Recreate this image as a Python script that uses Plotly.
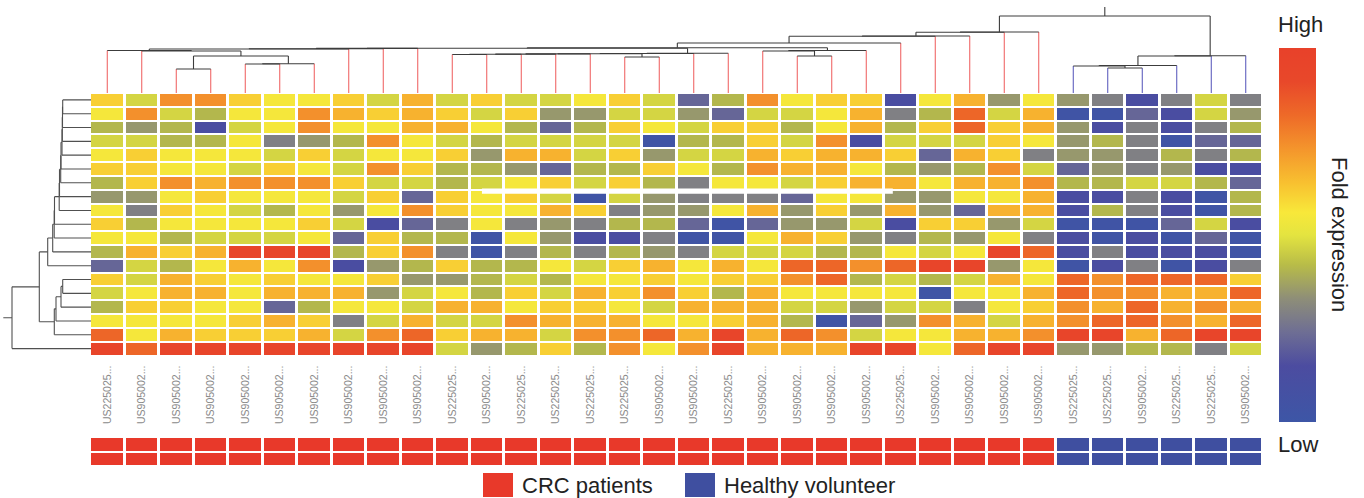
import plotly.graph_objects as go

W, H = 1364, 498

# ---------------- data ----------------
sample_labels = ["US225025...", "US905002...", "US905002...", "US905002...", "US905002...",
                 "US905002...", "US905002...", "US905002...", "US905002...", "US905002...",
                 "US225025...", "US905002...", "US225025...", "US225025...", "US225025...",
                 "US225025...", "US905002...", "US905002...", "US225025...", "US905002...",
                 "US905002...", "US905002...", "US905002...", "US225025...", "US905002...",
                 "US905002...", "US905002...", "US905002...", "US225025...", "US225025...",
                 "US905002...", "US225025...", "US225025...", "US905002..."]
sample_group = ["CRC patients"] * 28 + ["Healthy volunteer"] * 6

# relative fold expression (0 = low, 1 = high), one list per gene row
row01 = [.61,.47,.74,.74,.61,.55,.55,.61,.47,.67,.47,.61,.47,.47,.55,.61,.47,.22,.41,.74,.55,.61,.61,.13,.55,.67,.35,.55,.35,.29,.13,.29,.47,.29]
row02 = [.55,.74,.47,.41,.55,.55,.74,.67,.61,.67,.61,.47,.61,.35,.35,.47,.47,.35,.22,.47,.47,.55,.67,.29,.41,.83,.47,.67,.03,.03,.22,.13,.47,.35]
row03 = [.41,.35,.41,.13,.47,.55,.74,.55,.55,.67,.67,.55,.41,.22,.41,.61,.55,.47,.61,.61,.41,.55,.67,.41,.61,.83,.61,.67,.35,.13,.29,.13,.29,.41]
row04 = [.47,.47,.41,.41,.55,.29,.35,.41,.74,.55,.47,.41,.47,.47,.47,.47,.03,.41,.41,.61,.47,.74,.13,.47,.47,.47,.61,.55,.35,.41,.29,.03,.22,.22]
row05 = [.55,.61,.55,.55,.55,.47,.61,.47,.55,.55,.61,.35,.67,.67,.47,.61,.35,.47,.47,.67,.61,.67,.67,.61,.22,.67,.61,.29,.35,.35,.29,.41,.29,.41]
row06 = [.61,.61,.55,.55,.47,.61,.55,.47,.74,.61,.41,.41,.35,.22,.41,.41,.61,.55,.41,.74,.67,.67,.55,.41,.35,.41,.74,.47,.22,.35,.29,.35,.13,.13]
row07 = [.41,.61,.74,.67,.74,.74,.74,.61,.47,.47,.41,.47,.55,.61,.47,.61,.41,.29,.55,.55,.47,.61,.67,.67,.55,.67,.67,.74,.41,.41,.47,.47,.41,.22]
row08 = [.35,.35,.55,.61,.55,.55,.55,.47,.61,.22,.61,.55,.61,.47,.03,.47,.35,.29,.29,.29,.22,.55,.55,.35,.35,.55,.55,.67,.13,.13,.29,.13,.03,.41]
row09 = [.55,.29,.61,.55,.47,.41,.55,.35,.55,.74,.61,.55,.55,.67,.61,.29,.35,.35,.55,.67,.35,.61,.35,.67,.35,.22,.67,.67,.13,.41,.29,.13,.03,.41]
row10 = [.61,.41,.55,.55,.55,.55,.61,.47,.13,.22,.29,.55,.29,.35,.29,.41,.41,.22,.03,.22,.35,.35,.47,.13,.61,.61,.35,.47,.03,.03,.03,.22,.47,.13]
row11 = [.55,.55,.41,.47,.47,.47,.55,.22,.61,.41,.41,.03,.55,.35,.13,.13,.29,.03,.03,.55,.67,.61,.35,.29,.41,.35,.55,.29,.13,.03,.13,.03,.22,.03]
row12 = [.41,.67,.61,.67,.95,.95,.95,.41,.61,.74,.29,.03,.29,.41,.29,.41,.35,.29,.47,.47,.47,.41,.41,.55,.47,.55,.95,.83,.13,.29,.13,.13,.13,.03]
row13 = [.22,.47,.41,.55,.67,.55,.74,.13,.35,.41,.61,.41,.41,.55,.47,.61,.67,.55,.67,.55,.83,.83,.74,.83,.95,.95,.35,.55,.03,.13,.29,.03,.13,.29]
row14 = [.61,.47,.67,.61,.55,.61,.55,.55,.61,.35,.35,.41,.47,.41,.55,.55,.61,.55,.61,.61,.74,.83,.41,.47,.41,.47,.67,.55,.83,.74,.83,.83,.83,.61]
row15 = [.47,.55,.67,.67,.55,.67,.67,.67,.35,.47,.55,.41,.61,.47,.67,.61,.74,.61,.41,.67,.55,.55,.55,.55,.03,.55,.55,.67,.83,.74,.74,.67,.67,.83]
row16 = [.41,.61,.61,.55,.55,.22,.41,.55,.55,.47,.67,.67,.55,.61,.61,.55,.47,.67,.67,.67,.47,.47,.35,.47,.47,.29,.55,.61,.74,.67,.83,.67,.74,.67]
row17 = [.55,.55,.55,.55,.61,.67,.61,.29,.47,.67,.47,.47,.74,.67,.67,.67,.55,.55,.61,.67,.41,.03,.22,.35,.74,.67,.47,.67,.74,.83,.83,.74,.67,.83]
row18 = [.83,.55,.67,.61,.61,.61,.67,.47,.74,.83,.61,.67,.67,.47,.74,.74,.83,.67,.95,.67,.83,.74,.47,.55,.55,.67,.67,.74,.95,.95,.67,.83,.95,.95]
row19 = [.95,.83,.95,.95,.95,.95,.95,.95,.95,.95,.47,.35,.41,.61,.41,.74,.55,.74,.95,.67,.67,.67,.95,.95,.55,.83,.95,.95,.35,.35,.41,.41,.29,.47]
expression_rows = [row01, row02, row03, row04, row05, row06, row07, row08, row09, row10,
                   row11, row12, row13, row14, row15, row16, row17, row18, row19]

# sample (column) clustering: (node, child_a, child_b, merge distance)
sample_tree = [
    ("h1", 29, 30, 25.0), ("h2", 28, "h1", 27.0), ("h3", "h2", 31, 27.5),
    ("h4", "h3", 32, 37.0), ("H", "h4", 33, 37.3),
    ("b23", 2, 3, 24.0), ("b45", 4, 5, 29.0), ("b456", "b45", 6, 29.3),
    ("E", "b23", "b456", 37.0), ("F", 1, "E", 42.0), ("G", 0, "F", 42.5),
    ("S1", "G", 7, 44.0), ("S2", "S1", 8, 44.3), ("S", "S2", 9, 44.6),
    ("r1011", 10, 11, 38.5), ("r12", "r1011", 12, 38.7), ("r13", "r12", 13, 38.9),
    ("r14", "r13", 14, 39.1), ("r1516", 15, 16, 36.0), ("r16", "r14", "r1516", 39.3),
    ("r17", "r16", 17, 39.5), ("R", "r17", 18, 39.7), ("P", "S", "R", 44.8),
    ("q2021", 20, 21, 37.0), ("q19", 19, "q2021", 42.0), ("Q", "q19", 22, 42.5),
    ("N", "P", "Q", 45.2), ("M", "N", 23, 50.0), ("Ld", "M", 24, 56.7),
    ("Lb", "Ld", 25, 57.0), ("Lc", "Lb", 26, 60.7), ("L", "Lc", 27, 61.0),
    ("root", "L", "H", 77.0),
]
# gene (row) clustering
gene_tree = [
    ("a01", 0, 1, 28.3), ("a2", "a01", 2, 28.5), ("a3", "a2", 3, 28.7),
    ("a4", "a3", 4, 29.0), ("a5", "a4", 5, 30.0), ("a6", "a5", 6, 30.3),
    ("a7", "a6", 7, 31.5), ("a8", "a7", 8, 31.8), ("a9", "a8", 9, 36.5),
    ("a10", "a9", 10, 36.8), ("a11", "a10", 11, 38.3), ("U", "a11", 12, 43.3),
    ("c1314", 13, 14, 28.3), ("c15", "c1314", 15, 30.0), ("c16", "c15", 16, 35.0),
    ("Lo", "c16", 17, 36.7), ("UL", "U", "Lo", 51.7), ("root", "UL", 18, 79.0),
]

# ---------------- styling ----------------
FONT = "Liberation Sans, Arial, sans-serif"
fold_scale = [
    [0.00, "#3D56A6"], [0.15, "#4C4CA0"], [0.24, "#6E6E94"], [0.33, "#8E8E78"],
    [0.42, "#B8BC48"], [0.50, "#E4E440"], [0.56, "#F8E83A"], [0.64, "#F8C030"],
    [0.73, "#F4952C"], [0.82, "#EE6A28"], [0.91, "#E8482A"], [1.00, "#E8412A"],
]
group_colors = {"CRC patients": "#E8392A", "Healthy volunteer": "#3F4FA0"}
n_cols = len(sample_labels)
n_rows = len(expression_rows)

def tree_segments(merges, n_leaves, stub):
    pos = {i: float(i) for i in range(n_leaves)}
    hgt = {i: 0.0 for i in range(n_leaves)}
    leaf_segs, inner = [], []
    last = None
    for name, a, b, d in merges:
        for c in (a, b):
            seg = (pos[c], hgt[c], pos[c], d)
            if isinstance(c, int):
                leaf_segs.append((seg, c))
            else:
                inner.append(seg)
        inner.append((pos[a], d, pos[b], d))
        pos[name] = (pos[a] + pos[b]) / 2
        hgt[name] = d
        last = name
    inner.append((pos[last], hgt[last], pos[last], hgt[last] + stub))
    return leaf_segs, inner

def to_xy(segs, swap=False):
    xs, ys = [], []
    for p0, h0, p1, h1 in segs:
        if swap:
            xs += [h0, h1, None]; ys += [p0, p1, None]
        else:
            xs += [p0, p1, None]; ys += [h0, h1, None]
    return xs, ys

fig = go.Figure()

# heatmap
fig.add_trace(go.Heatmap(
    z=expression_rows, x=list(range(n_cols)), y=list(range(n_rows)),
    colorscale=fold_scale, zmin=0, zmax=1, xgap=3, ygap=2, hoverinfo="skip",
    colorbar=dict(x=1279 / W, xanchor="left", y=(H - 48) / H, yanchor="top",
                  len=374, lenmode="pixels", thickness=37, thicknessmode="pixels",
                  xpad=0, ypad=0, outlinewidth=0, showticklabels=False, ticks=""),
    xaxis="x", yaxis="y"))

# group annotation strip (two bands)
grp_codes = [0 if g == "CRC patients" else 1 for g in sample_group]
fig.add_trace(go.Heatmap(
    z=[grp_codes, grp_codes], x=list(range(n_cols)), y=[0, 1],
    colorscale=[[0, group_colors["CRC patients"]], [0.5, group_colors["CRC patients"]],
                [0.5, group_colors["Healthy volunteer"]], [1, group_colors["Healthy volunteer"]]],
    zmin=0, zmax=1, showscale=False, xgap=3, ygap=2, hoverinfo="skip",
    xaxis="x4", yaxis="y4"))

# column dendrogram
leaf_segs, inner = tree_segments(sample_tree, n_cols, 9.0)
for grp, col in [("CRC patients", "#EE5A5A"), ("Healthy volunteer", "#5050B8")]:
    xs, ys = to_xy([s for s, leaf in leaf_segs if sample_group[leaf] == grp])
    fig.add_trace(go.Scatter(x=xs, y=ys, mode="lines", line=dict(color=col, width=1),
                             hoverinfo="skip", showlegend=False, xaxis="x2", yaxis="y2"))
xs, ys = to_xy(inner)
fig.add_trace(go.Scatter(x=xs, y=ys, mode="lines", line=dict(color="#3c3c3c", width=1.1),
                         hoverinfo="skip", showlegend=False, xaxis="x2", yaxis="y2"))

# row dendrogram
leaf_segs, inner = tree_segments(gene_tree, n_rows, 8.7)
xs, ys = to_xy([s for s, _ in leaf_segs] + inner, swap=True)
fig.add_trace(go.Scatter(x=xs, y=ys, mode="lines", line=dict(color="#505050", width=1.1),
                         hoverinfo="skip", showlegend=False, xaxis="x3", yaxis="y3"))

hm_x = [90 / W, 1263 / W]
hm_y = [(H - 355.5) / H, (H - 93) / H]
hidden = dict(visible=False, showgrid=False, zeroline=False)
fig.update_layout(
    width=W, height=H, margin=dict(l=0, r=0, t=0, b=0),
    paper_bgcolor="white", plot_bgcolor="white", showlegend=False,
    font=dict(family=FONT, color="#222222"),
    xaxis=dict(domain=hm_x, range=[-0.5, n_cols - 0.5], anchor="y",
               tickvals=list(range(n_cols)), ticktext=sample_labels, tickangle=-90,
               tickfont=dict(size=10.5, color="#8a8a8a", family=FONT),
               ticks="", ticklabelstandoff=7, showgrid=False, zeroline=False, showline=False),
    yaxis=dict(domain=hm_y, range=[n_rows - 0.5, -0.5], anchor="x", **hidden),
    xaxis2=dict(domain=hm_x, range=[-0.5, n_cols - 0.5], anchor="y2", **hidden),
    yaxis2=dict(domain=[(H - 93) / H, (H - 4) / H], range=[0, 89], anchor="x2", **hidden),
    xaxis3=dict(domain=[3 / W, 91 / W], range=[88, 0], anchor="y3", **hidden),
    yaxis3=dict(domain=hm_y, range=[n_rows - 0.5, -0.5], anchor="x3", **hidden),
    xaxis4=dict(domain=hm_x, range=[-0.5, n_cols - 0.5], anchor="y4", **hidden),
    yaxis4=dict(domain=[(H - 466) / H, (H - 437) / H], range=[1.5, -0.5], anchor="x4", **hidden),
)

# white scan artefact across the heatmap
fig.add_shape(type="rect", xref="x", yref="y", x0=10.86, x1=22.77, y0=6.42, y1=6.8,
              fillcolor="white", line=dict(width=0), layer="above")

def px_annot(text, x, y, size=22, xanchor="center", yanchor="middle", **kw):
    fig.add_annotation(text=text, x=x / W, y=(H - y) / H, xref="paper", yref="paper",
                       showarrow=False, xanchor=xanchor, yanchor=yanchor,
                       font=dict(size=size, color="#222222", family=FONT), **kw)

px_annot("High", 1300, 25)
px_annot("Low", 1298, 444)
px_annot("Fold expression", 1339, 234, textangle=90)

# legend
for label, sx, tx in [("CRC patients", 498, 520), ("Healthy volunteer", 700, 722)]:
    fig.add_annotation(text=" ", x=sx / W, y=(H - 485) / H, xref="paper", yref="paper",
                       showarrow=False, width=30, height=24, bgcolor=group_colors[label],
                       borderpad=0, borderwidth=0, xanchor="center", yanchor="middle")
    px_annot(label, tx, 485, size=22, xanchor="left", yanchor="middle")

fig.write_html("out.html")
